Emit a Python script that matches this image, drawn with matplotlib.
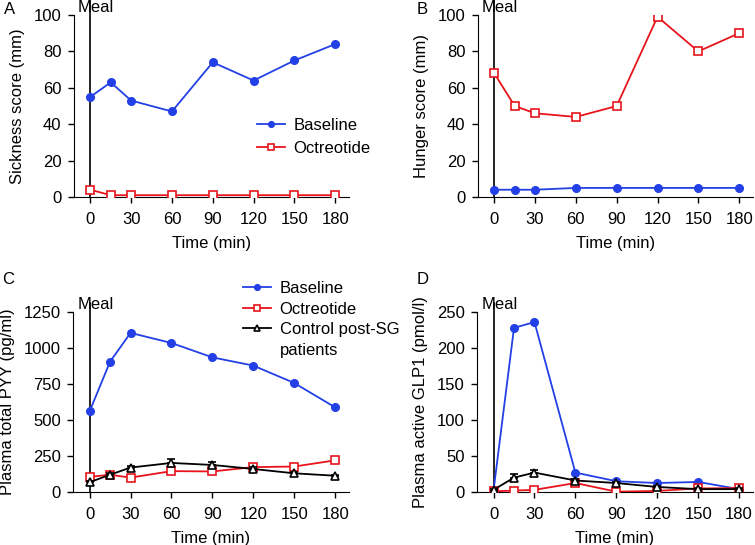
import matplotlib.pyplot as plt
from matplotlib.lines import Line2D
import numpy as np

plt.rcParams['font.family'] = ['Liberation Sans', 'DejaVu Sans']
plt.rcParams['font.size'] = 12

time = [0, 15, 30, 60, 90, 120, 150, 180]
xticks = [0, 30, 60, 90, 120, 150, 180]

# A - sickness score
sick_base = [55, 63, 53, 47, 74, 64, 75, 84]
sick_oct = [4, 1, 1, 1, 1, 1, 1, 1]
# B - hunger score
hunger_base = [4, 4, 4, 5, 5, 5, 5, 5]
hunger_oct = [68, 50, 46, 44, 50, 99, 80, 90]
# C - PYY
pyy_base = [560, 905, 1105, 1035, 935, 878, 757, 588]
pyy_oct = [105, 120, 100, 145, 143, 173, 177, 220]
pyy_ctrl = [68, 120, 170, 202, 188, 160, 130, 113]
pyy_ctrl_err = [10, 12, 12, 28, 22, 12, 12, 8]
# D - GLP1
glp_base = [2, 228, 236, 27, 15, 12.5, 14, 4]
glp_oct = [1, 2, 3, 12.5, 0.5, 1.5, 5, 5.5]
glp_ctrl = [3, 20, 27, 16, 12.5, 7, 4, 4]
glp_ctrl_err = [1, 5, 4, 2, 2, 1, 1, 1]

blue = '#2340e6'
red = '#e8141c'

fig = plt.figure(figsize=(7.55, 5.45), dpi=100)
axA = fig.add_axes([0.098, 0.6385, 0.364, 0.334])
axB = fig.add_axes([0.633, 0.6385, 0.364, 0.334])
axC = fig.add_axes([0.097, 0.0972, 0.365, 0.3303])
axD = fig.add_axes([0.632, 0.0972, 0.365, 0.3303])


def style(ax, ylabel, ymax, ystep, meal_top):
    ax.set_xlim(-12, 190)
    ax.set_ylim(0, ymax)
    ax.set_xticks(xticks)
    ax.set_yticks(np.arange(0, ymax + 1, ystep))
    ax.spines['top'].set_visible(False)
    ax.spines['right'].set_visible(False)
    ax.tick_params(axis='x', direction='out', length=4, width=1, pad=7)
    ax.tick_params(axis='y', direction='out', length=4, width=1, pad=5)
    ax.set_xlabel('Time (min)', labelpad=6)
    ax.set_ylabel(ylabel, labelpad=6)
    ax.axvline(0, ymin=0, ymax=meal_top, color='black', lw=1.2, clip_on=False, zorder=1)
    ax.text(-9, ymax, 'Meal', ha='left', va='bottom')


def circ(ax, y):
    return ax.plot(time, y, '-o', color=blue, lw=1.3, ms=5.5, label='Baseline', zorder=3)


def sq(ax, y):
    return ax.plot(time, y, '-s', color=red, lw=1.3, ms=6, mfc='white', mew=1.2,
                   label='Octreotide', zorder=3)


def tri(ax, y, err):
    ax.errorbar(time, y, yerr=[np.zeros(len(time)), err], fmt='-^',
                color='black', lw=1.3, ms=6, mfc='white', mew=1.2, capsize=3, zorder=4)


leg_kw = dict(frameon=False, borderaxespad=0, borderpad=0, handlelength=1.7,
              handletextpad=0.5, markerscale=0.75, fontsize=12)

# A
circ(axA, sick_base)
sq(axA, sick_oct)
style(axA, 'Sickness score (mm)', 100, 20, 1.08)
axA.legend(loc='center left', bbox_to_anchor=(0.665, 0.33), **leg_kw)

# B
sq(axB, hunger_oct)
circ(axB, hunger_base)
style(axB, 'Hunger score (mm)', 100, 20, 1.08)

# C
circ(axC, pyy_base)
sq(axC, pyy_oct)
tri(axC, pyy_ctrl, pyy_ctrl_err)
style(axC, 'Plasma total PYY (pg/ml)', 1250, 250, 1.05)
handles = [
    Line2D([], [], color=blue, lw=1.3, marker='o', ms=5.5),
    Line2D([], [], color=red, lw=1.3, marker='s', ms=6, mfc='white', mew=1.2),
    Line2D([], [], color='black', lw=1.3, marker='^', ms=6, mfc='white', mew=1.2),
    Line2D([], [], color='none'),
]
labels = ['Baseline', 'Octreotide', 'Control post-SG', 'patients']
axC.legend(handles, labels, loc='upper left', bbox_to_anchor=(0.616, 1.172),
           labelspacing=0.33, **leg_kw)

# D
circ(axD, glp_base)
sq(axD, glp_oct)
tri(axD, glp_ctrl, glp_ctrl_err)
style(axD, 'Plasma active GLP1 (pmol/l)', 250, 50, 1.05)

for lab, x, y in [('A', 10, 10), ('B', 422, 10), ('C', 8, 279), ('D', 423, 279)]:
    fig.text(x / 755, 1 - y / 545, lab, ha='center', va='center', fontsize=12)

fig.savefig('out.png', dpi=100)
